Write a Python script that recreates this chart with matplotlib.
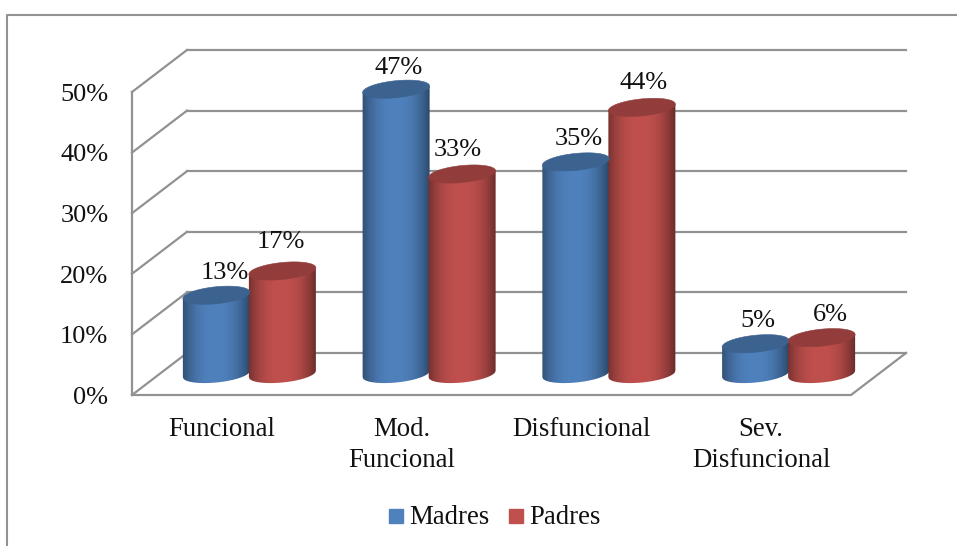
#!/usr/bin/env python3
"""Cilindros 3D agrupados: funcionalidad familiar de madres y padres"""
import numpy as np
import matplotlib
matplotlib.use('Agg')
import matplotlib.pyplot as plt
from matplotlib.colors import to_rgb
from matplotlib.patches import Polygon, Rectangle

categories = ['Funcional', 'Mod.\nFuncional', 'Disfuncional', 'Sev.\nDisfuncional']
series_names = ['Madres', 'Padres']
madres = [13, 47, 35, 5]
padres = [17, 33, 44, 6]
y_ticks = [0, 10, 20, 30, 40, 50]

BLUE = '#4f81bd'
RED = '#c0504d'
GRID = '#929292'
TEXT = '#111111'
W, H = 957, 546

plt.rcParams['font.family'] = ['Liberation Serif', 'DejaVu Serif']

fig = plt.figure(figsize=(W / 100, H / 100), dpi=100)

# eje frontal del grafico en pixeles
left, right, top, bottom = 132, 851, 92, 395
ax = fig.add_axes([left / W, 1 - bottom / H, (right - left) / W, (bottom - top) / H])
ax.axis('off')

px_x = 4 / (right - left)
px_y = 50 / (bottom - top)
depth_x = 55 * px_x
depth_y = 42 * px_y


def shade(color, k):
    return tuple(np.array(to_rgb(color)) * k)


def cylinder(cx, value, color):
    # cuerpo con degradado horizontal recortado a la silueta, y tapa mas oscura
    half = 33.5 * px_x
    b = 8.5 * px_y
    tilt = 3.2 * px_y
    base = depth_y / 2
    u = np.linspace(-1, 1, 100)
    low = -b * np.sqrt(1 - u**2) + tilt * u
    outline = np.vstack([
        np.column_stack([cx + half * u, base + low]),
        np.column_stack([cx + half * u[::-1], base + value + tilt * u[::-1]]),
    ])
    # la imagen es algo mas ancha que la silueta para que el recorte marque el borde
    g = np.linspace(-1.06, 1.06, 110)
    k = 1.0 - 0.42 * np.minimum(np.abs(g + 0.05), 1.05) ** 2.4
    grad = np.array([[shade(color, x) for x in k]])
    y0, y1 = base - b - tilt, base + value + tilt
    im = ax.imshow(grad, extent=[cx - 1.06 * half, cx + 1.06 * half, y0, y1], aspect='auto',
                   interpolation='bilinear', zorder=3)
    patch = Polygon(outline, transform=ax.transData, fill=False, edgecolor='none')
    ax.add_patch(patch)
    im.set_clip_path(patch)
    # los cilindros pueden salir del rectangulo del eje frontal
    im.set_clip_box(fig.bbox)
    t = np.linspace(0, 2 * np.pi, 120)
    ex = cx + half * np.cos(t)
    ey = base + value + b * np.sin(t) + tilt * np.cos(t)
    ax.fill(ex, ey, color=shade(color, 0.76), lw=0.4, clip_on=False, zorder=4)


# paredes y rejilla
line_kw = dict(color=GRID, lw=1.6, clip_on=False, zorder=1, solid_capstyle='projecting')
for v in y_ticks:
    ax.plot([0, depth_x], [v, v + depth_y], **line_kw)
    ax.plot([depth_x, 4 + depth_x], [v + depth_y, v + depth_y], **line_kw)
ax.plot([0, 0], [0, 50], **line_kw)
ax.plot([0, 4, 4 + depth_x], [0, 0, depth_y], **line_kw)

# ticks y etiquetas de los ejes
for v in y_ticks:
    ax.annotate(f'{v}%', (0, v), xytext=(-17, -2), textcoords='offset points',
                ha='right', va='center', fontsize=19, color=TEXT, annotation_clip=False)
for i, name in enumerate(categories):
    ax.text(i + 0.5, -3.7, name, ha='center', va='top', fontsize=19.3, color=TEXT,
            linespacing=1.3, clip_on=False)

# cilindros y etiquetas de valor
label_nudge = [[(6, 16), (-1, 21)], [(2, 15), (-3, 17)], [(2, 16.5), (1, 17.5)], [(1.5, 16), (6.5, 16)]]
for i in range(4):
    for j, (vals, color) in enumerate(zip((madres, padres), (BLUE, RED))):
        cx = i + 0.5 + depth_x / 2 + (j - 0.5) * 66 * px_x
        cylinder(cx, vals[i], color)
        dx, dy = label_nudge[i][j]
        ax.annotate(f'{vals[i]}%', (cx, vals[i] + depth_y / 2), xytext=(dx, dy),
                    textcoords='offset points', ha='center', va='center', fontsize=19,
                    color=TEXT, annotation_clip=False, zorder=5)

ax.set_xlim(0, 4)
ax.set_ylim(0, 50)

# leyenda
for name, color, sq_x in zip(series_names, (BLUE, RED), (389, 509)):
    fig.add_artist(Rectangle((sq_x / W, 1 - 523 / H), 14 / W, 14 / H, color=color,
                             transform=fig.transFigure))
    fig.text((sq_x + 20) / W, 1 - 518 / H, name, ha='left', va='center', fontsize=19.3, color=TEXT)

# marco exterior
fig.add_artist(plt.Line2D([7.5 / W, 7.5 / W, 1], [0, 1 - 15 / H, 1 - 15 / H], color=GRID, lw=1.5))

fig.savefig('out.png', dpi=100)
